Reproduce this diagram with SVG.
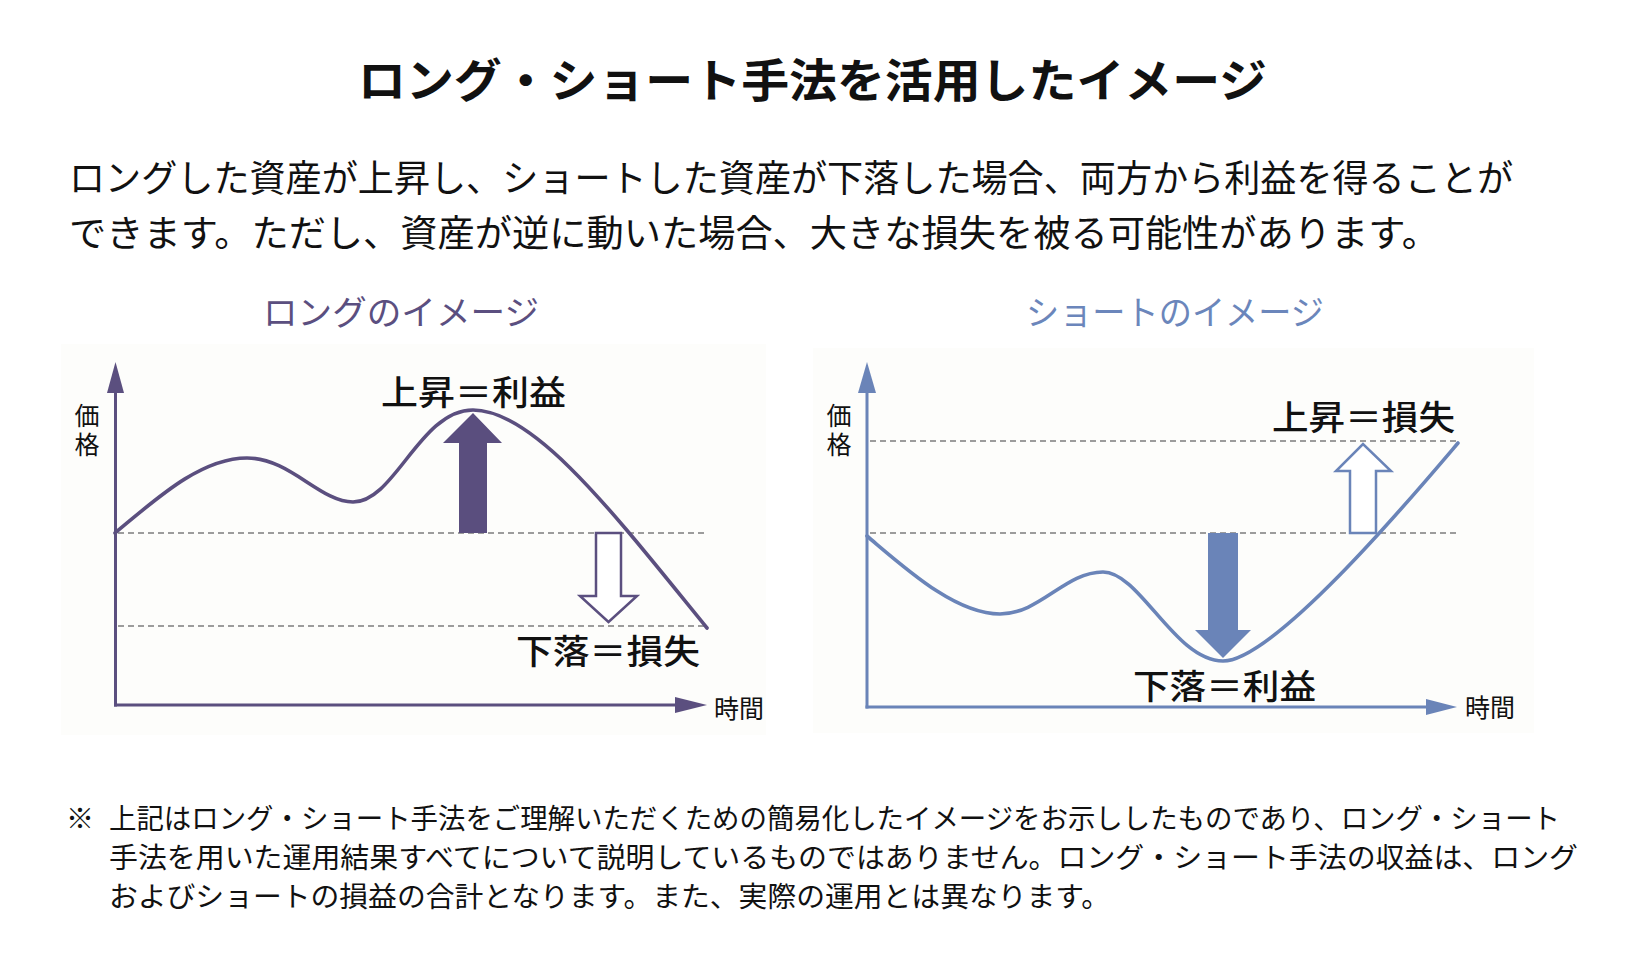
<svg xmlns="http://www.w3.org/2000/svg" width="1625" height="967" viewBox="0 0 1625 967">
<style>
text{font-family:"Noto Sans CJK JP","Noto Sans",sans-serif;fill:#111;}
.title{font-size:46px;font-weight:700;}
.para{font-size:37px;}
.note{font-size:28px;}
.sec{font-size:34px;}
.lbl{font-size:34px;font-weight:500;}
.ax{font-size:25px;}
.vax{font-size:25px;writing-mode:vertical-rl;letter-spacing:4px;}
.panel{fill:#fdfdfb;}
.dash{stroke:#9c9c9c;stroke-width:2.2;stroke-dasharray:6 4;fill:none;}
.lc{stroke:#5b4f7f;}
.sc{stroke:#6a84b8;}
.curve{fill:none;stroke-width:3.6;stroke-linecap:round;}
.axis{fill:none;stroke-width:3;}
</style>
<rect width="1625" height="967" fill="#ffffff"/>
<text class="title" x="358" y="97" textLength="909" lengthAdjust="spacingAndGlyphs">ロング・ショート手法を活用したイメージ</text>
<text class="para" x="69" y="192" textLength="1444" lengthAdjust="spacingAndGlyphs">ロングした資産が上昇し、ショートした資産が下落した場合、両方から利益を得ることが</text>
<text class="para" x="69" y="247" textLength="1370" lengthAdjust="spacingAndGlyphs">できます。ただし、資産が逆に動いた場合、大きな損失を被る可能性があります。</text>

<g id="long-chart">
<rect class="panel" x="61" y="344" width="705" height="391"/>
<text class="sec" x="263" y="325" style="fill:#5b4f80" textLength="276" lengthAdjust="spacingAndGlyphs">ロングのイメージ</text>
<line class="dash" x1="118" y1="533" x2="707" y2="533"/>
<line class="dash" x1="118" y1="626" x2="707" y2="626"/>
<path class="curve lc" d="M115,533 C155,500 200,458 247,458 C290,458 320,502 353,502 C395,502 420,410 473,410 C535,410 615,515 707,628"/>
<polygon points="459,533 487,533 487,443 502,443 473,413 443,443 459,443" fill="#5a4e7e"/>
<polygon points="596,533 621,533 621,596 637,596 608.5,622 580,596 596,596" fill="#ffffff" stroke="#5b4f7f" stroke-width="2.5"/>
<line class="axis lc" x1="115.5" y1="392" x2="115.5" y2="706.5"/>
<line class="axis lc" x1="114" y1="705" x2="677" y2="705"/>
<polygon points="115.5,362 124,393 107,393" fill="#5b4f7f"/>
<polygon points="707,705 675,697 675,713" fill="#5b4f7f"/>
<text class="vax" x="87" y="403">価格</text>
<text class="ax" x="714" y="718">時間</text>
<text class="lbl" x="381" y="405" textLength="185" lengthAdjust="spacingAndGlyphs">上昇＝利益</text>
<text class="lbl" x="516" y="664" textLength="184" lengthAdjust="spacingAndGlyphs">下落＝損失</text>
</g>

<g id="short-chart">
<rect class="panel" x="813" y="348" width="721" height="385"/>
<text class="sec" x="1026" y="325" style="fill:#6b86bb" textLength="298" lengthAdjust="spacingAndGlyphs">ショートのイメージ</text>
<line class="dash" x1="870" y1="441" x2="1458" y2="441"/>
<line class="dash" x1="870" y1="533" x2="1458" y2="533"/>
<path class="curve sc" d="M867,536 C905,568 955,614 1000,614 C1040,614 1065,572 1103,572 C1140,572 1175,661 1223,661 C1275,661 1418,490 1458,443"/>
<polygon points="1208,533 1238,533 1238,630 1251,630 1223,658 1195,630 1208,630" fill="#6a84b8"/>
<polygon points="1350,533 1376,533 1376,471 1391,471 1363,444 1336,471 1350,471" fill="#ffffff" stroke="#6a84b8" stroke-width="2.5"/>
<line class="axis sc" x1="867" y1="392" x2="867" y2="708.5"/>
<line class="axis sc" x1="865.5" y1="707" x2="1428" y2="707"/>
<polygon points="867,362 876,393 858,393" fill="#6a84b8"/>
<polygon points="1457,707 1426,699 1426,715" fill="#6a84b8"/>
<text class="vax" x="839" y="403">価格</text>
<text class="ax" x="1465" y="717">時間</text>
<text class="lbl" x="1272" y="430" textLength="183" lengthAdjust="spacingAndGlyphs">上昇＝損失</text>
<text class="lbl" x="1133" y="699" textLength="183" lengthAdjust="spacingAndGlyphs">下落＝利益</text>
</g>

<g id="footnote">
<text class="note" x="66" y="829">※</text>
<text class="note" x="109" y="829" textLength="1451" lengthAdjust="spacingAndGlyphs">上記はロング・ショート手法をご理解いただくための簡易化したイメージをお示ししたものであり、ロング・ショート</text>
<text class="note" x="109" y="868" textLength="1469" lengthAdjust="spacingAndGlyphs">手法を用いた運用結果すべてについて説明しているものではありません。ロング・ショート手法の収益は、ロング</text>
<text class="note" x="109" y="907" textLength="1001" lengthAdjust="spacingAndGlyphs">およびショートの損益の合計となります。また、実際の運用とは異なります。</text>
</g>
</svg>
